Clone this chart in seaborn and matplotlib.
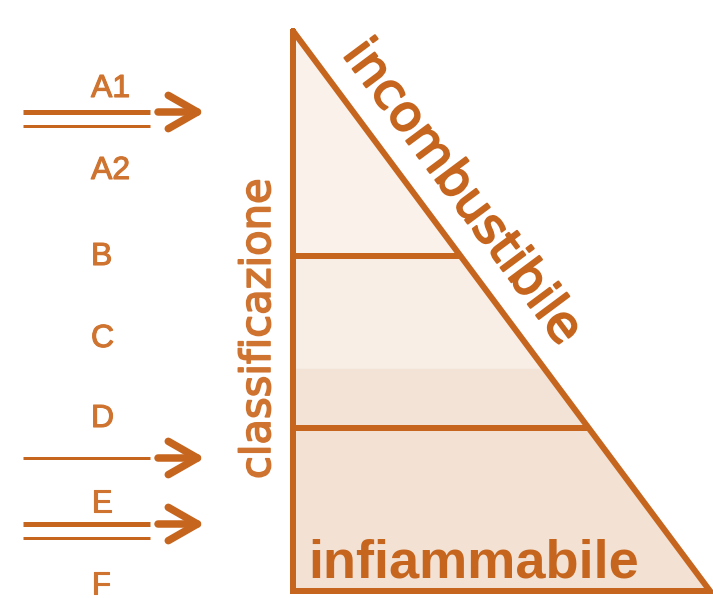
import numpy as np
import matplotlib.pyplot as plt
import matplotlib.patheffects as pe
import seaborn as sns

# classi di reazione al fuoco
classes = ['A1', 'A2', 'B', 'C', 'D', 'E', 'F']
class_base_y = [97, 179, 265, 347, 427, 512, 594]

# fasce del triangolo (y in pixel) e colori
band_edges = [31, 256, 368, 428, 591]
band_colors = ['#FAF1EB', '#F9EEE6', '#F3E2D6', '#F3E1D3']
divider_y = [256, 428]

# frecce: y, doppia linea?
arrow_y = [112, 458, 524]
arrow_double = [True, False, True]

LINE = '#C6651D'
TEXT = '#CF7430'

apex = (293, 31)
base_y = 591
right_x = 710


def hyp_x(y):
    return apex[0] + (np.asarray(y) - apex[1]) / (base_y - apex[1]) * (right_x - apex[0])


sns.set_theme(style='white')
plt.rcParams['font.family'] = ['DejaVu Sans']

fig = plt.figure(figsize=(7.13, 5.98), dpi=100)
ax = fig.add_axes([0, 0, 1, 1])
ax.set_xlim(0, 713)
ax.set_ylim(598, 0)
ax.axis('off')

px = 72 / 100  # pixel -> punti

# riempimento a fasce
for i, col in enumerate(band_colors):
    yy = np.array([band_edges[i], band_edges[i + 1]])
    ax.fill_betweenx(yy, apex[0], hyp_x(yy), color=col, lw=0, zorder=1)

# divisori
for y in divider_y:
    ax.plot([apex[0], hyp_x(y)], [y, y], color=LINE, lw=6 * px, zorder=3,
            solid_capstyle='butt')

# contorno triangolo
ax.plot([apex[0], apex[0], right_x, apex[0]], [apex[1], base_y, base_y, apex[1]],
        color=LINE, lw=6 * px, zorder=4, solid_joinstyle='miter')

# lettere delle classi
for lab, y in zip(classes, class_base_y):
    ax.text(91, y, lab, family='Liberation Sans', fontsize=23, color=TEXT,
            ha='left', va='baseline',
            path_effects=[pe.withStroke(linewidth=0.8, foreground=TEXT)])

# linee e frecce
for y, dbl in zip(arrow_y, arrow_double):
    if dbl:
        ax.plot([23, 150], [y, y], color=LINE, lw=5 * px, solid_capstyle='butt')
        ax.plot([23, 150], [y + 14, y + 14], color=LINE, lw=3 * px,
                solid_capstyle='butt')
    else:
        ax.plot([23, 150], [y, y], color=LINE, lw=3 * px, solid_capstyle='butt')
    ax.annotate('', xy=(205, y), xytext=(158, y),
                arrowprops=dict(arrowstyle='->,head_length=1.05,head_width=0.6',
                                lw=7.5 * px, color=LINE, mutation_scale=20,
                                shrinkA=0, shrinkB=0))

# testi
stroke = [pe.withStroke(linewidth=1.2, foreground=TEXT)]
ax.text(270, 329, 'classificazione', fontsize=30, color=TEXT, rotation=90,
        rotation_mode='anchor', ha='center', va='baseline', path_effects=stroke)

ang = np.degrees(np.arctan2(base_y - apex[1], right_x - apex[0]))
ax.text(451, 201, 'incombustibile', fontsize=36, color=LINE, rotation=-ang,
        rotation_mode='anchor', ha='center', va='baseline',
        path_effects=[pe.withStroke(linewidth=1.5, foreground=LINE)])

ax.text(308, 577, 'infiammabile', family='Liberation Sans', fontweight='bold',
        fontsize=39, color=LINE, ha='left', va='baseline', zorder=5)

fig.savefig('out.png', dpi=100)
